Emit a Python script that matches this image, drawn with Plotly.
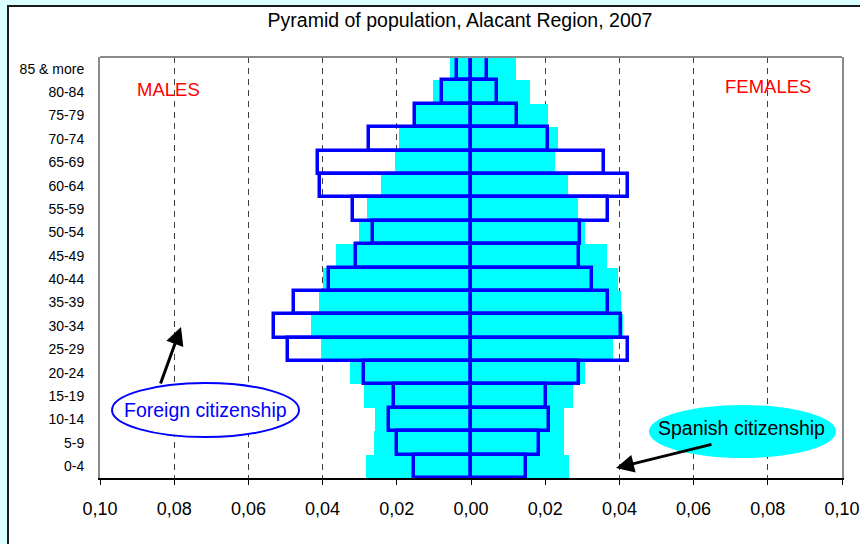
import plotly.graph_objects as go

# ---------------- data ----------------
age_groups = ["0-4", "5-9", "10-14", "15-19", "20-24", "25-29", "30-34", "35-39",
              "40-44", "45-49", "50-54", "55-59", "60-64", "65-69", "70-74",
              "75-79", "80-84", "85 & more"]

spanish_males = [0.0283, 0.0262, 0.0259, 0.0289, 0.0327, 0.0405, 0.0430, 0.0410,
                 0.0400, 0.0364, 0.0302, 0.0279, 0.0243, 0.0205, 0.0194,
                 0.0152, 0.0102, 0.0056]
spanish_females = [0.0263, 0.0252, 0.0252, 0.0274, 0.0308, 0.0384, 0.0410, 0.0405,
                   0.0396, 0.0367, 0.0308, 0.0289, 0.0262, 0.0226, 0.0234,
                   0.0208, 0.0158, 0.0122]
foreign_males = [0.0155, 0.0199, 0.0220, 0.0207, 0.0288, 0.0494, 0.0530, 0.0476,
                 0.0383, 0.0309, 0.0264, 0.0318, 0.0406, 0.0413, 0.0276,
                 0.0151, 0.0077, 0.0038]
foreign_females = [0.0148, 0.0184, 0.0211, 0.0201, 0.0291, 0.0422, 0.0404, 0.0368,
                   0.0326, 0.0290, 0.0293, 0.0369, 0.0422, 0.0358, 0.0207,
                   0.0124, 0.0070, 0.0044]

x_tick_vals = [-0.10, -0.08, -0.06, -0.04, -0.02, 0.0, 0.02, 0.04, 0.06, 0.08, 0.10]
x_tick_text = ["0,10", "0,08", "0,06", "0,04", "0,02", "0,00",
               "0,02", "0,04", "0,06", "0,08", "0,10"]

# ---------------- figure ----------------
W, H = 860, 544
L, R, T, B = 100, 18, 57, 66
PW, PH = W - L - R, H - T - B


def px(x):
    return (x - L) / PW


def py(y):
    return (H - B - y) / PH


CYAN = "#00ffff"
BLUE = "#0000ff"
FONT = "Liberation Sans, Arial, sans-serif"

fig = go.Figure()

fig.add_trace(go.Bar(y=age_groups, x=[-v for v in spanish_males], orientation="h",
                     width=1, marker=dict(color=CYAN, line=dict(width=0)),
                     name="Spanish males"))
fig.add_trace(go.Bar(y=age_groups, x=spanish_females, orientation="h",
                     width=1, marker=dict(color=CYAN, line=dict(width=0)),
                     name="Spanish females"))
fig.add_trace(go.Bar(y=age_groups, x=[-v for v in foreign_males], orientation="h",
                     width=1, marker=dict(color="rgba(0,0,0,0)",
                                          line=dict(color=BLUE, width=3.5)),
                     name="Foreign males"))
fig.add_trace(go.Bar(y=age_groups, x=foreign_females, orientation="h",
                     width=1, marker=dict(color="rgba(0,0,0,0)",
                                          line=dict(color=BLUE, width=3.5)),
                     name="Foreign females"))

n = len(age_groups)
boundaries = [i - 0.5 for i in range(n + 1)]

fig.update_layout(
    width=W, height=H,
    margin=dict(l=L, r=R, t=T, b=B, autoexpand=False),
    paper_bgcolor="#dcffff",
    plot_bgcolor="white",
    barmode="overlay",
    bargap=0,
    showlegend=False,
    font=dict(family=FONT, color="black"),
    title=dict(text="Pyramid of population, Alacant Region, 2007",
               x=460 / W, xref="container", xanchor="center",
               y=1 - 20 / H, yref="container", yanchor="middle",
               font=dict(size=19.5, family=FONT, color="black")),
    xaxis=dict(range=[-0.1, 0.1], tickvals=x_tick_vals, ticktext=x_tick_text,
               automargin=False,
               showgrid=True, griddash="6px,5px", gridcolor="#404040", gridwidth=1,
               zeroline=False, showline=True, linecolor="black", linewidth=2,
               ticks="outside", ticklen=5, tickcolor="black", tickwidth=1,
               ticklabelstandoff=8,
               tickfont=dict(size=18, family=FONT, color="black")),
    yaxis=dict(type="category", range=[-0.5, n - 0.5], showgrid=False,
               automargin=False,
               showline=True, linecolor="#8a8a8a", linewidth=2, mirror=True,
               ticks="", ticklabelstandoff=11, zeroline=False,
               tickfont=dict(size=14, family=FONT, color="black")),
    yaxis2=dict(overlaying="y", anchor="free", position=0.5, side="left",
                automargin=False,
                range=[-0.5, n - 0.5], showgrid=False, zeroline=False,
                showline=True, linecolor="black", linewidth=2.5,
                tickvals=boundaries, ticks="outside", ticklen=4, tickwidth=1,
                tickcolor="black", showticklabels=False),
    yaxis3=dict(overlaying="y", anchor="free", position=0.5, side="right",
                automargin=False,
                range=[-0.5, n - 0.5], showgrid=False, zeroline=False,
                showline=False,
                tickvals=boundaries, ticks="outside", ticklen=4, tickwidth=1,
                tickcolor="black", showticklabels=False),
)

shapes = [
    # white chart frame
    dict(type="rect", xref="paper", yref="paper", layer="below",
         x0=px(8), x1=px(870), y0=py(560), y1=py(6),
         fillcolor="white", line=dict(color="#1a1a1a", width=2)),
    # top border of plot area
    dict(type="line", xref="paper", yref="paper", layer="above",
         x0=0, x1=1, y0=1, y1=1, line=dict(color="#8a8a8a", width=2)),
    # ellipses
    dict(type="circle", xref="paper", yref="paper", layer="above",
         x0=px(112), x1=px(299), y0=py(437), y1=py(383),
         fillcolor="white", line=dict(color=BLUE, width=2)),
    dict(type="circle", xref="paper", yref="paper", layer="above",
         x0=px(649), x1=px(836), y0=py(458), y1=py(405),
         fillcolor=CYAN, line=dict(width=0)),
]
fig.update_layout(shapes=shapes)

annotations = [
    dict(text="MALES", xref="paper", yref="paper", x=px(168), y=py(89),
         xanchor="center", yanchor="middle",
         showarrow=False, font=dict(size=18.5, color="#ff0000", family=FONT)),
    dict(text="FEMALES", xref="paper", yref="paper", x=px(768), y=py(86),
         xanchor="center", yanchor="middle",
         showarrow=False, font=dict(size=18.5, color="#ff0000", family=FONT)),
    dict(text="Foreign citizenship", xref="paper", yref="paper", x=px(205), y=py(410),
         xanchor="center", yanchor="middle",
         showarrow=False, font=dict(size=19.5, color=BLUE, family=FONT)),
    dict(text="Spanish citizenship", xref="paper", yref="paper", x=px(741), y=py(428),
         xanchor="center", yanchor="middle",
         showarrow=False, font=dict(size=19.5, color="black", family=FONT)),
    dict(text="", xref="paper", yref="paper", x=px(181), y=py(327),
         ax=-21, ay=58, showarrow=True, arrowhead=2, arrowsize=1.2,
         arrowwidth=3, arrowcolor="black"),
    dict(text="", xref="paper", yref="paper", x=px(616), y=py(468),
         ax=97, ay=-24, showarrow=True, arrowhead=2, arrowsize=1.2,
         arrowwidth=3, arrowcolor="black"),
]
fig.update_layout(annotations=annotations)

fig.write_html("out.html",
               config={"displayModeBar": False},
               post_script="document.body.style.margin='0px';"
                           "document.body.style.background='#dcffff';")
